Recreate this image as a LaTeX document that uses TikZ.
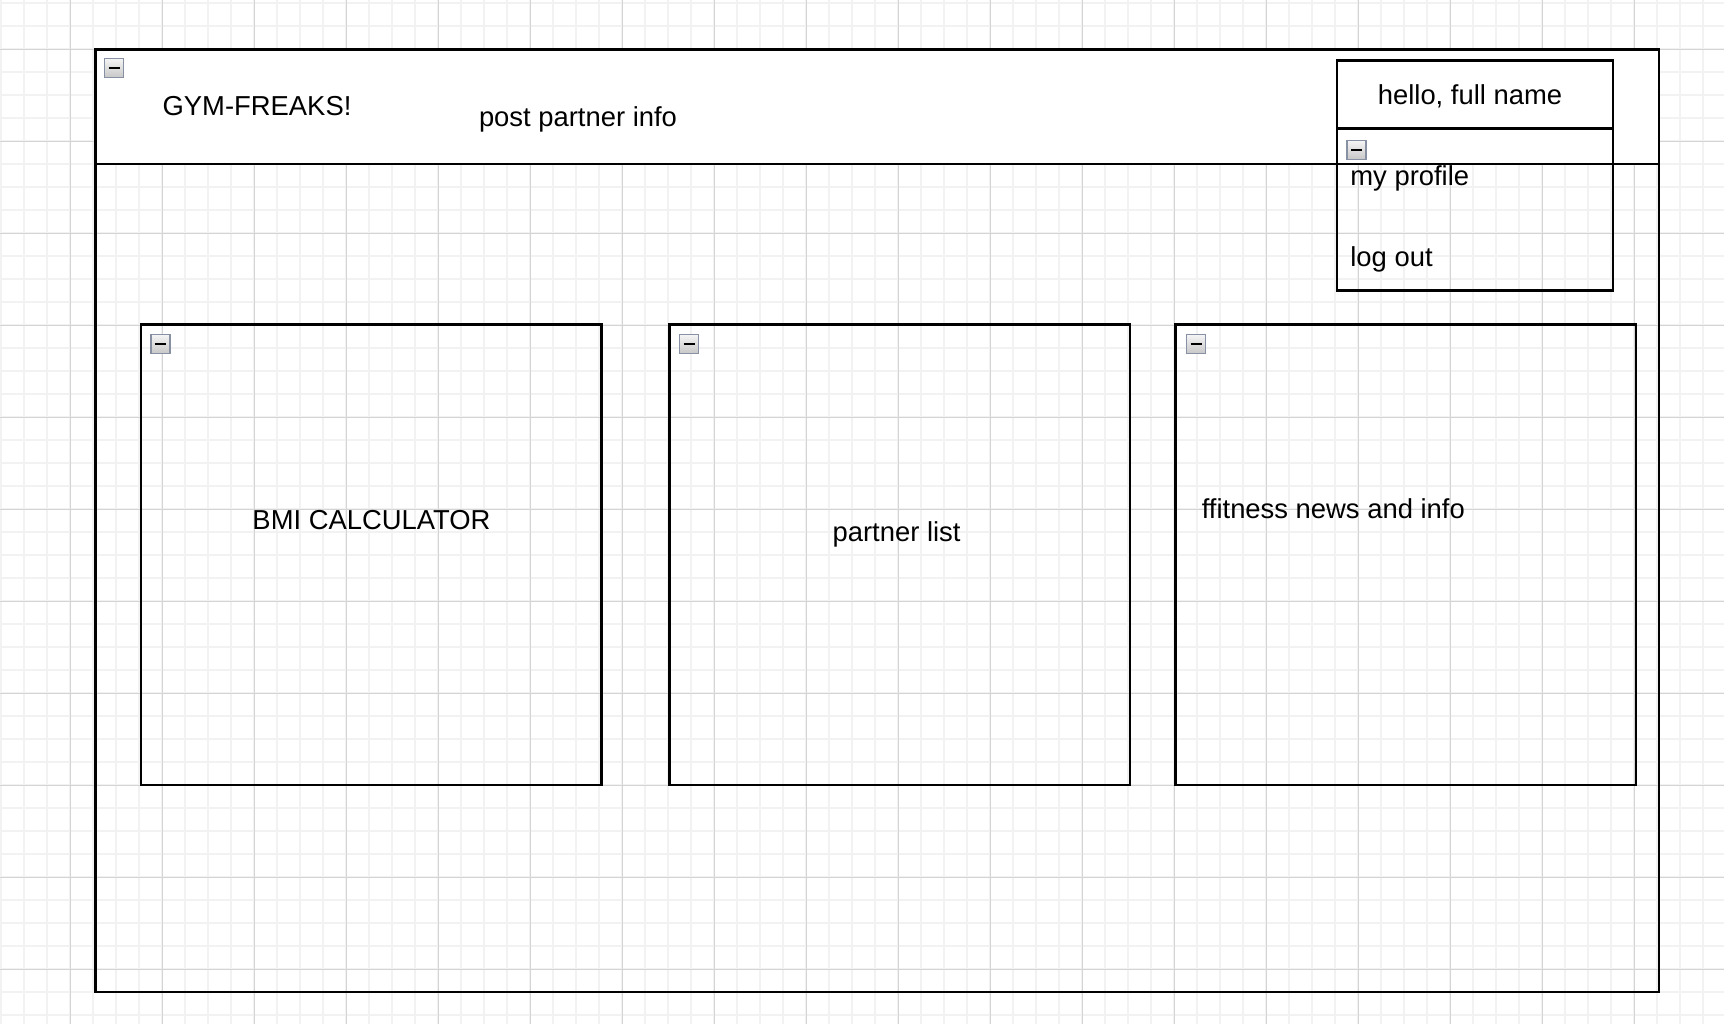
\documentclass[tikz,border=0pt]{standalone}
\usepackage{fontspec}
\setmainfont[Ligatures=NoCommon]{Liberation Sans}
\definecolor{gridminor}{RGB}{242,242,242}
\definecolor{gridmajor}{RGB}{212,212,212}
\definecolor{btnedge}{RGB}{136,145,164}

\begin{document}
\begin{tikzpicture}[x=0.5pt,y=-0.5pt]

%
% Styles
%
\tikzstyle{panel} = [rectangle,draw=black,line width=1.2pt,anchor=north west,inner sep=0pt,outer sep=0pt]
\tikzstyle{square} = [panel,minimum width=230.3pt,minimum height=230.3pt]
\tikzstyle{btn} = [rectangle,draw=btnedge,line width=0.8pt,top color=white!96!black,bottom color=black!22,minimum size=9.5pt,inner sep=0pt]
\tikzstyle{txt} = [font=\fontsize{13.7}{16}\selectfont,inner sep=0pt]

%
% Canvas grid
%
\useasboundingbox (0,0) rectangle (1724,1024);
\fill[white] (0,0) rectangle (1724,1024);
\foreach \gx in {1,24,...,1724} \draw[gridminor,line width=0.7pt] (\gx,0) -- (\gx,1024);
\foreach \gy in {3,26,...,1024} \draw[gridminor,line width=0.7pt] (0,\gy) -- (1724,\gy);
\foreach \gx in {70,162,...,1724} \draw[gridmajor,line width=0.5pt] (\gx,0) -- (\gx,1024);
\foreach \gy in {49,141,...,1024} \draw[gridmajor,line width=0.5pt] (0,\gy) -- (1724,\gy);

%
% Page
%
\node[panel,fill=white,minimum width=781.7pt,minimum height=57.2pt] (header) at (95.6,49.5) {};
\node[panel,minimum width=781.7pt,minimum height=471.1pt] (frame) at (95.6,49.5) {};
\node[panel,fill=white,minimum width=138pt,minimum height=34pt] (menuhead) at (1337,60.5) {};
\node[panel,minimum width=138pt,minimum height=80.9pt] (menubody) at (menuhead.south west) {};

\node[square] (bmi) at (140.7,324.4) {};
\node[square] (partners) at (669.6,324.4) {};
\node[square] (news) at (1175.3,324.4) {};

%
% Collapse buttons
%
\node[btn] (framebtn) at (114,68) {\rule{5.5pt}{1.1pt}};
\node[btn] (menubtn) at (1356.5,150) {\rule{5.5pt}{1.1pt}};
\node[btn] (bmibtn) at (160.2,344) {\rule{5.5pt}{1.1pt}};
\node[btn] (listbtn) at (689.1,344) {\rule{5.5pt}{1.1pt}};
\node[btn] (newsbtn) at (1196,344) {\rule{5.5pt}{1.1pt}};

%
% Texts
%
\node[txt,anchor=base] (brand) at (257,115) {GYM-FREAKS!};
\node[txt,anchor=base] (post) at (578,126.7) {post partner info};
\node[txt,anchor=base] (hello) at (1470,104.3) {hello, full name};
\node[txt,anchor=base west] (profile) at (1350,185) {my profile};
\node[txt,anchor=base west] (logout) at (1350,266.7) {log out};
\node[txt,anchor=base] (bmitext) at (371.5,529.3) {BMI CALCULATOR};
\node[txt,anchor=base] (listtext) at (896.6,541) {partner list};
\node[txt,anchor=base west] (newstext) at (1201.4,518.3) {ffitness news and info};

\end{tikzpicture}
\end{document}
